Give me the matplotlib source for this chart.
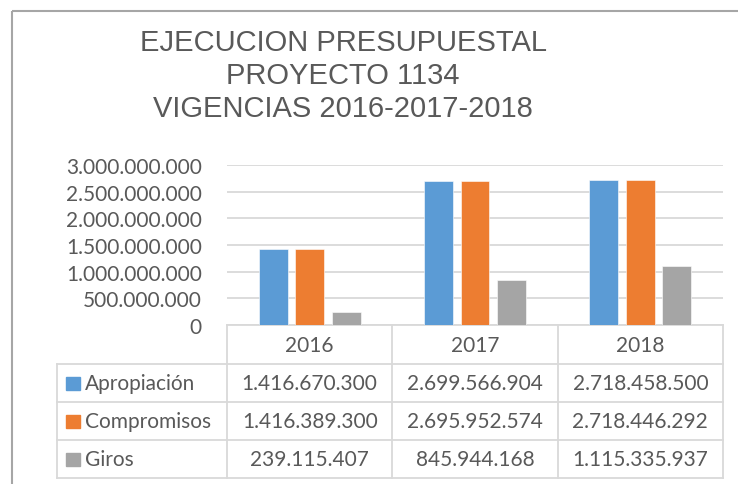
import matplotlib
matplotlib.use("Agg")
import numpy as np
import matplotlib.pyplot as plt
from matplotlib.patches import Rectangle
from matplotlib.transforms import blended_transform_factory

years = ["2016", "2017", "2018"]
series = ["Apropiación", "Compromisos", "Giros"]
apropiacion = [1416670300, 2699566904, 2718458500]
compromisos = [1416389300, 2695952574, 2718446292]
giros = [239115407, 845944168, 1115335937]
yticks = [0, 500000000, 1000000000, 1500000000, 2000000000, 2500000000, 3000000000]
title = "EJECUCION PRESUPUESTAL\nPROYECTO 1134\nVIGENCIAS 2016-2017-2018"

colors = ["#5B9BD5", "#ED7D31", "#A5A5A5"]
txt = "#595959"
line_c = "#D9D9D9"
font = "Lato"


def fmt(v):
    return "{:,}".format(int(v)).replace(",", ".")


W, H = 738, 485
fig = plt.figure(figsize=(W / 100, H / 100), dpi=100)

# background layer in pixel coords (frame, title, table)
bg = fig.add_axes([0, 0, 1, 1], zorder=0)
bg.set_xlim(0, W)
bg.set_ylim(H, 0)
bg.axis("off")

bg.add_patch(Rectangle((12, 12), W + 20, H + 20, fill=False, edgecolor="#A6A6A6", linewidth=1.5))
bg.text(343, 76, title, ha="center", va="center", fontsize=21, color=txt,
        family="Liberation Sans", linespacing=1.22)

# plot area
x0, x1 = 227, 723
y_top, y_zero = 166, 326
ax = fig.add_axes([x0 / W, (H - y_zero) / H, (x1 - x0) / W, (y_zero - y_top) / H], zorder=1)
ax.patch.set_alpha(0)

x = np.arange(len(years))
width = 0.175
step = 0.221
data = [apropiacion, compromisos, giros]
for i, vals in enumerate(data):
    ax.bar(x + (i - 1) * step, vals, width, color=colors[i], edgecolor="white",
           linewidth=0.4, zorder=3)

ax.set_xlim(-0.5, len(years) - 0.5)
ax.set_ylim(0, 3000000000)
ax.set_yticks(yticks)
ax.set_yticklabels([fmt(v) for v in yticks], family=font, fontsize=15, color=txt)
ax.tick_params(axis="y", length=0, pad=18)
ax.set_xticks([])
ax.grid(axis="y", color=line_c, linewidth=1.3, zorder=0)
for s in ax.spines.values():
    s.set_visible(False)

# data table
tr = blended_transform_factory(ax.transData, bg.transData)
rows = [326, 365, 403, 441, 479]
lab_x = 57
for k in range(len(years) + 1):
    bg.plot([k - 0.5, k - 0.5], [rows[0], rows[-1]], color=line_c, lw=1.3, transform=tr)
bg.plot([-0.5, len(years) - 0.5], [rows[0], rows[0]], color=line_c, lw=1.3, transform=tr)
for r in rows[1:]:
    bg.plot([lab_x, x1], [r, r], color=line_c, lw=1.3)
bg.plot([lab_x, lab_x], [rows[1], rows[-1]], color=line_c, lw=1.3)

for j, yr in enumerate(years):
    bg.text(j, (rows[0] + rows[1]) / 2 + 1, yr, transform=tr, ha="center", va="center",
            family=font, fontsize=15, color=txt)

for i, name in enumerate(series):
    yc = (rows[i + 1] + rows[i + 2]) / 2
    bg.add_patch(Rectangle((66, yc - 6.5), 14, 13, color=colors[i]))
    bg.text(85, yc, name, ha="left", va="center", family=font, fontsize=15, color=txt)
    for j in range(len(years)):
        bg.text(j, yc, fmt(data[i][j]), transform=tr, ha="center", va="center",
                family=font, fontsize=15, color=txt)

fig.savefig("out.png", dpi=100)
